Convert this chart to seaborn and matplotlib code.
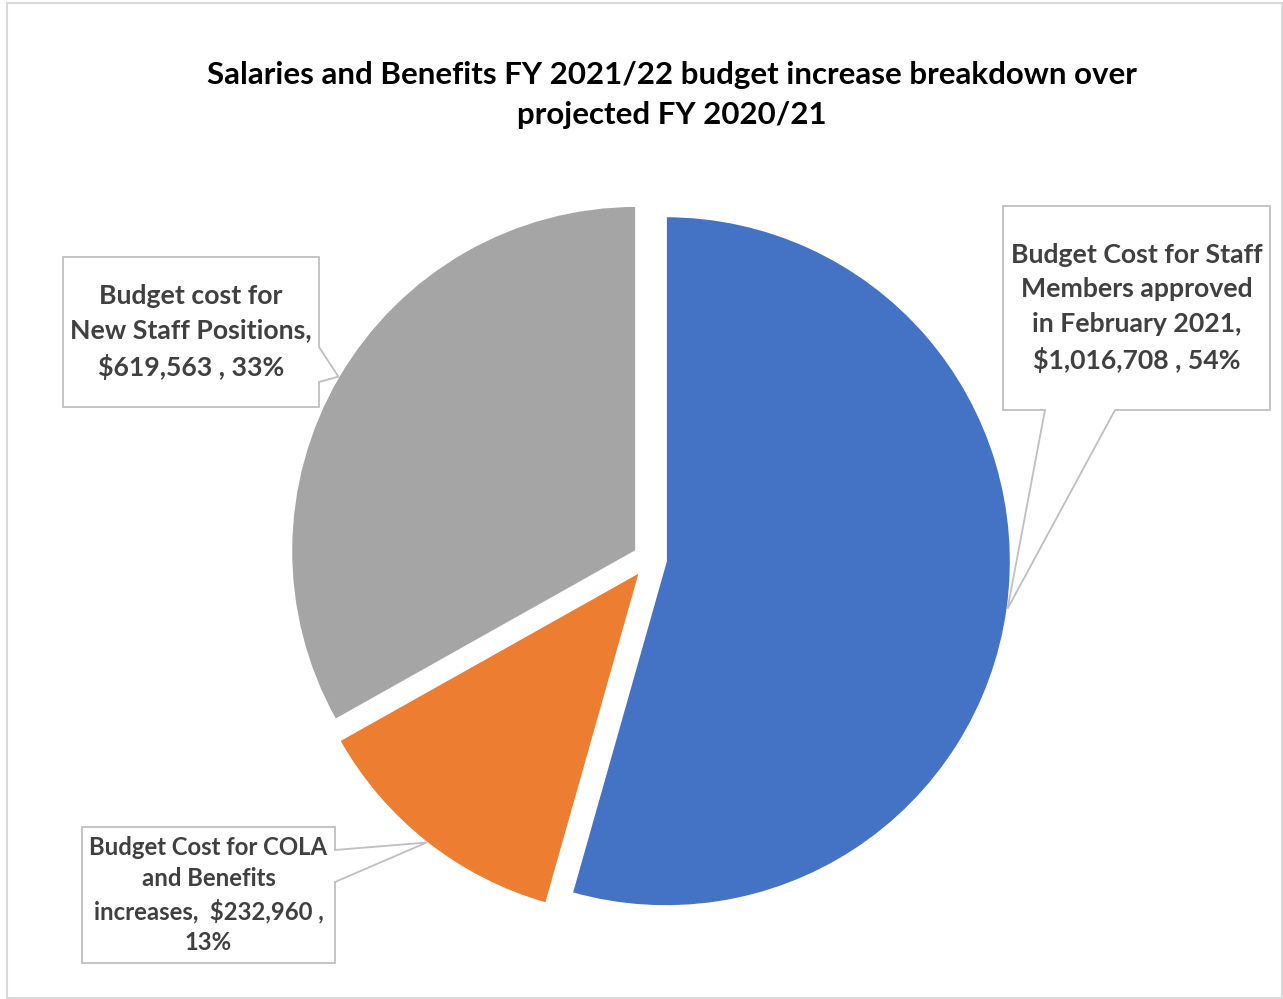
import matplotlib
matplotlib.use("Agg")
import matplotlib.pyplot as plt
import seaborn as sns
from matplotlib.patches import Polygon, Rectangle
import numpy as np

# Budget increase components (FY 2021/22 over projected FY 2020/21)
categories = [
    "Budget Cost for Staff Members approved in February 2021",
    "Budget Cost for COLA and Benefits increases",
    "Budget cost for New Staff Positions",
]
amounts = [1016708, 232960, 619563]
pct_labels = ["54%", "13%", "33%"]
label_templates = [
    "Budget Cost for Staff\nMembers approved\nin February 2021,\n{amt} , {pct}",
    "Budget Cost for COLA\nand Benefits\nincreases,  {amt} ,\n{pct}",
    "Budget cost for\nNew Staff Positions,\n{amt} , {pct}",
]
slice_colors = ["#4472C4", "#ED7D31", "#A5A5A5"]
title = "Salaries and Benefits FY 2021/22 budget increase breakdown over\nprojected FY 2020/21"

sns.set_theme(style="white")
plt.rcParams["font.family"] = ["Lato", "DejaVu Sans"]

W, H = 1283, 999
fig = plt.figure(figsize=(W / 100, H / 100), dpi=100)
ax = fig.add_axes([0, 0, 1, 1])


def up(y):
    """Convert a top-down pixel row into the axes' y-up coordinate."""
    return H - y


palette = sns.color_palette(slice_colors)
radius = 345
center = (650, up(559))
wedges, _ = ax.pie(
    amounts,
    colors=palette,
    startangle=90,
    counterclock=False,
    radius=radius,
    center=center,
    explode=[16] * len(amounts),
    wedgeprops=dict(edgecolor="white", linewidth=1.5),
)
ax.set_xlim(0, W)
ax.set_ylim(0, H)
ax.set_aspect("equal")
ax.axis("off")

# Chart-area border
ax.add_patch(Rectangle((7, up(998)), 1275, 995, fill=False,
                       edgecolor="#D9D9D9", linewidth=1.5, zorder=0))

ax.text(672, up(95), title, ha="center", va="center", fontsize=22.5,
        fontweight="bold", color="black", linespacing=1.56)

# Callout boxes: (left, top, right, bottom), pointer edge and its span
callouts = [
    dict(box=(1003, 206, 1270, 410), edge="bottom", span=(1045, 1115),
         fs=19.2, ls=1.52),
    dict(box=(82, 827, 335, 963), edge="right", span=(850, 882),
         fs=17.2, ls=1.43),
    dict(box=(63, 257, 319, 407), edge="right", span=(347, 382),
         fs=19.2, ls=1.52),
]

for wedge, amt, pct, tmpl, co in zip(wedges, amounts, pct_labels,
                                     label_templates, callouts):
    thetam = np.deg2rad(0.5 * (wedge.theta1 + wedge.theta2))
    tip = (wedge.center[0] + wedge.r * np.cos(thetam),
           wedge.center[1] + wedge.r * np.sin(thetam))
    L, T, R, B = co["box"]
    a, b = co["span"]
    if co["edge"] == "bottom":
        verts = [(L, up(T)), (R, up(T)), (R, up(B)), (b, up(B)), tip,
                 (a, up(B)), (L, up(B))]
    else:
        verts = [(L, up(T)), (R, up(T)), (R, up(a)), tip, (R, up(b)),
                 (R, up(B)), (L, up(B))]
    ax.add_patch(Polygon(verts, closed=True, facecolor="white",
                         edgecolor="#BFBFBF", linewidth=1.3, zorder=5))
    txt = tmpl.format(amt=f"${amt:,}", pct=pct)
    ax.text((L + R) / 2, up((T + B) / 2), txt, ha="center", va="center",
            fontsize=co["fs"], fontweight="bold", color="#404040",
            linespacing=co["ls"], zorder=6)

fig.savefig("out.png", dpi=100, facecolor="white")
